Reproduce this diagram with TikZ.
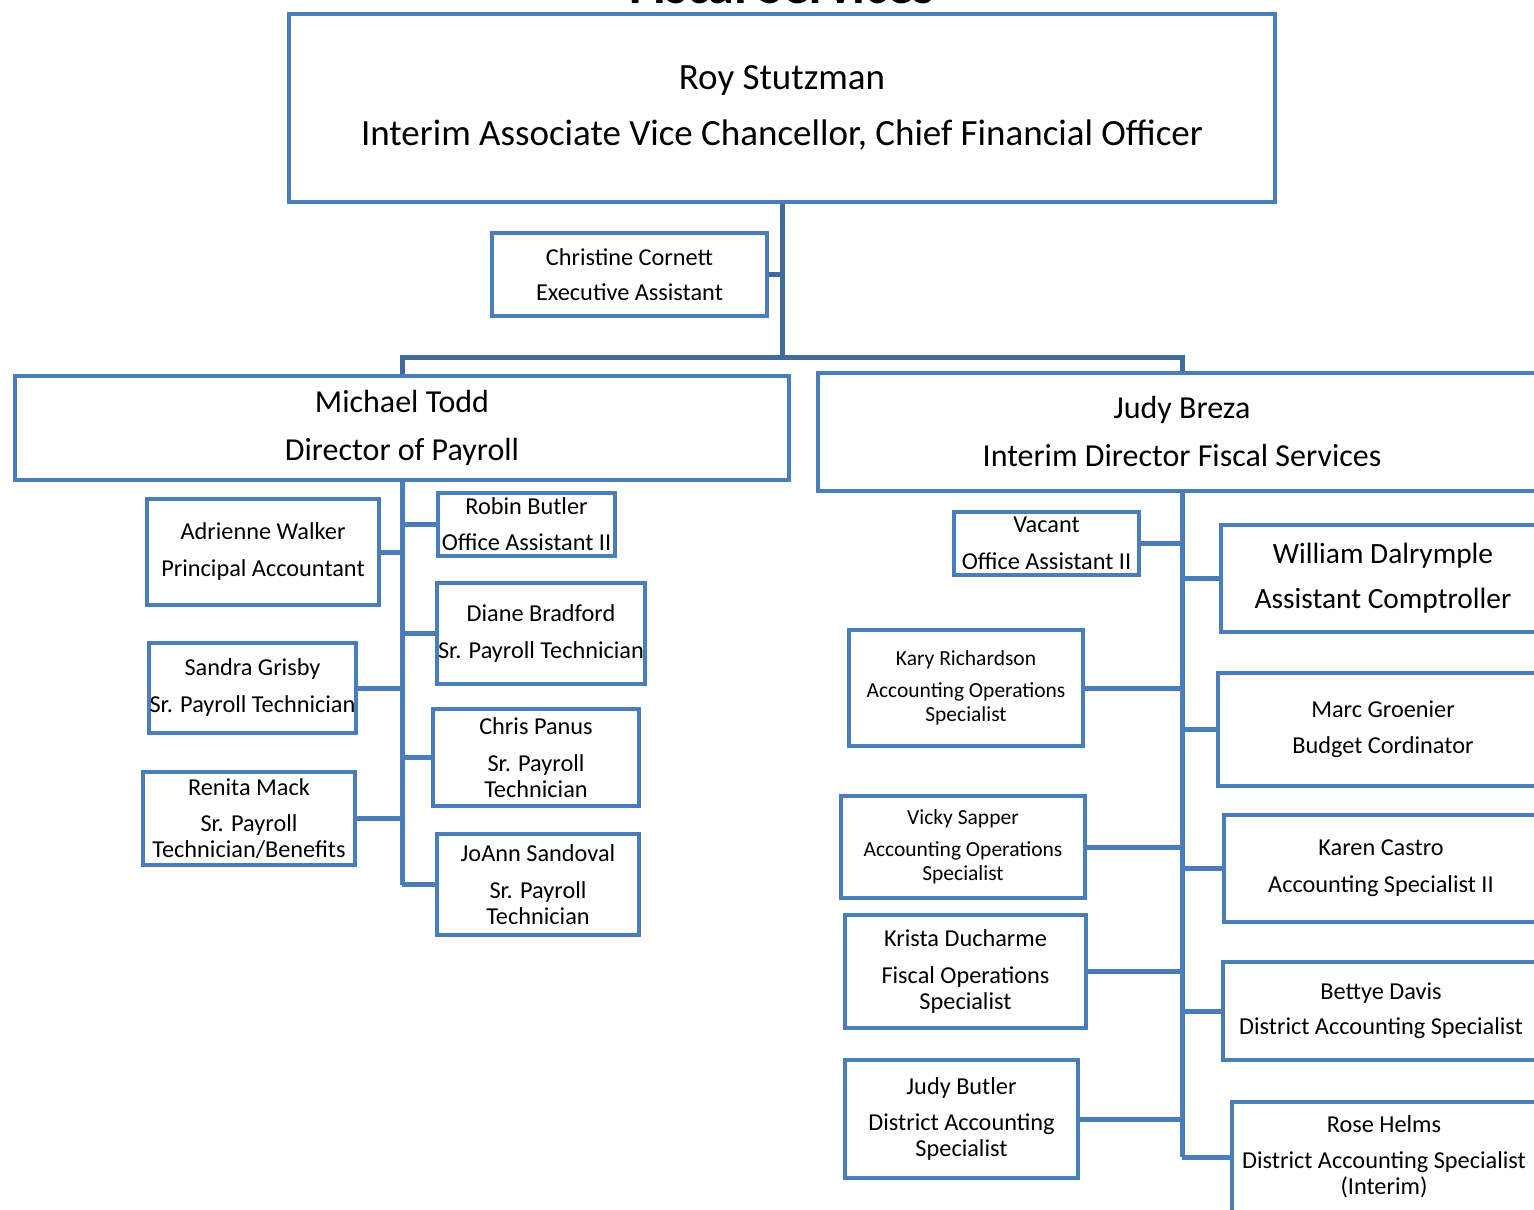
\documentclass[tikz,border=0pt]{standalone}
\usepackage{fontspec}
\setmainfont{Carlito}
\definecolor{boxblue}{HTML}{4A7EBB}
\definecolor{topblue}{HTML}{41699C}
\tikzset{
  box/.style={draw=boxblue, line width=4.5pt, fill=white, inner sep=0pt, align=center, text=black},
  conn/.style={draw=boxblue, line width=5pt},
  topconn/.style={draw=topblue, line width=5pt},
  fA/.style={font=\fontsize{24.3}{26}\selectfont},
  fS/.style={font=\fontsize{21.5}{23.5}\selectfont},
}
\begin{document}
\begin{tikzpicture}[x=1pt,y=-1pt]
\useasboundingbox (0,0) rectangle (1534,1210);
\clip (0,0) rectangle (1534,1210);
\fill[white] (0,0) rectangle (1534,1210);

\node[anchor=base, font=\fontsize{52}{60}\selectfont\bfseries] (title) at (782,3) {Fiscal Services};

% top level
\node[box, minimum width=986pt, minimum height=188pt, font=\fontsize{37}{44}\selectfont] (roy) at (782,108)
  {Roy Stutzman\\[12pt]Interim Associate Vice Chancellor, Chief Financial Officer};
\node[box, fA, minimum width=275pt, minimum height=83pt] (christine) at (629.5,274.5)
  {Christine Cornett\\[9pt]Executive Assistant};

\node[box, minimum width=774pt, minimum height=104pt, font=\fontsize{32}{38}\selectfont] (michael) at (402,428)
  {Michael Todd\\[10pt]Director of Payroll};
\node[box, minimum width=728pt, minimum height=118pt, font=\fontsize{32}{38}\selectfont] (judyb) at (1182,432)
  {Judy Breza\\[10pt]Interim Director Fiscal Services};

\coordinate (barL) at (402,357);
\draw[topconn] (roy.south) -- (roy.south |- barL);
\draw[topconn] (christine.east) -- (christine.east -| roy.south);
\draw[topconn] (michael.north) -- (barL) -| (judyb.north);

% payroll subtree
\node[box, fA, minimum width=232pt, minimum height=106pt] (adrienne) at (263,552)
  {Adrienne Walker\\[11pt]Principal Accountant};
\node[box, fA, minimum width=177pt, minimum height=63pt] (robin) at (526.5,524.5)
  {Robin Butler\\[10pt]Office Assistant II};
\node[box, fA, minimum width=208pt, minimum height=101pt] (diane) at (541,633.5)
  {Diane Bradford\\[11pt]Sr. Payroll Technician};
\node[box, fA, minimum width=207pt, minimum height=90pt] (sandra) at (252.5,688)
  {Sandra Grisby\\[11pt]Sr. Payroll Technician};
\node[box, fA, minimum width=206pt, minimum height=97pt] (chris) at (536,757.5)
  {Chris Panus\\[11pt]Sr. Payroll\\Technician};
\node[box, fA, minimum width=212pt, minimum height=93pt] (renita) at (249,818.5)
  {Renita Mack\\[10pt]Sr. Payroll\\Technician/Benefits};
\node[box, fA, minimum width=202pt, minimum height=101pt] (joann) at (538,884.5)
  {JoAnn Sandoval\\[11pt]Sr. Payroll\\Technician};

\draw[conn] (michael.south) -- (michael.south |- joann.west);
\foreach \n in {adrienne,sandra,renita}
  \draw[conn] (\n.east) -- (\n.east -| michael.south);
\foreach \n in {robin,diane,chris,joann}
  \draw[conn] (\n.west) -- (\n.west -| michael.south);

% fiscal services subtree
\node[box, fA, minimum width=185pt, minimum height=63pt] (vacant) at (1046.5,543.5)
  {Vacant\\[11pt]Office Assistant II};
\node[box, minimum width=324pt, minimum height=107pt, font=\fontsize{29.4}{35}\selectfont] (william) at (1383,578.5)
  {William Dalrymple\\[10pt]Assistant Comptroller};
\node[box, fS, minimum width=234pt, minimum height=116pt] (kary) at (966,688)
  {Kary Richardson\\[8.5pt]Accounting Operations\\Specialist};
\node[box, fA, minimum width=330pt, minimum height=113pt] (marc) at (1383,729.5)
  {Marc Groenier\\[10pt]Budget Cordinator};
\node[box, fS, minimum width=244pt, minimum height=102pt] (vicky) at (963,847)
  {Vicky Sapper\\[8.5pt]Accounting Operations\\Specialist};
\node[box, fA, minimum width=314pt, minimum height=107pt] (karen) at (1381,868.5)
  {Karen Castro\\[11pt]Accounting Specialist II};
\node[box, fA, minimum width=241pt, minimum height=113pt] (krista) at (965.5,971.5)
  {Krista Ducharme\\[11pt]Fiscal Operations\\Specialist};
\node[box, fA, minimum width=316pt, minimum height=98pt] (bettye) at (1381,1011)
  {Bettye Davis\\[9pt]District Accounting Specialist};
\node[box, fA, minimum width=233pt, minimum height=118pt] (judybt) at (961.5,1119)
  {Judy Butler\\[10pt]District Accounting\\Specialist};
\node[box, fA, minimum width=304pt, minimum height=110pt] (rose) at (1384,1157)
  {Rose Helms\\[10pt]District Accounting Specialist\\(Interim)};

\draw[conn] (judyb.south) -- (judyb.south |- rose.west);
\foreach \n in {vacant,kary,vicky,krista,judybt}
  \draw[conn] (\n.east) -- (\n.east -| judyb.south);
\foreach \n in {william,marc,karen,bettye,rose}
  \draw[conn] (\n.west) -- (\n.west -| judyb.south);
\end{tikzpicture}
\end{document}
